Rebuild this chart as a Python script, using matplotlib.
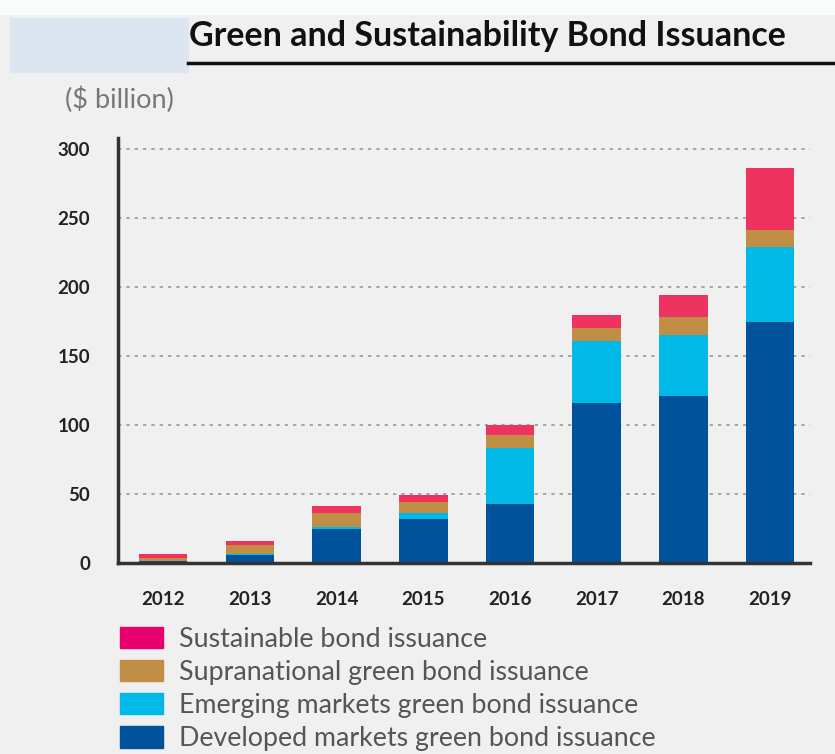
import numpy as np
import matplotlib
matplotlib.use("Agg")
import matplotlib.pyplot as plt
from matplotlib.patches import Rectangle, Patch
from matplotlib.lines import Line2D

years = ["2012", "2013", "2014", "2015", "2016", "2017", "2018", "2019"]
developed = [1.5, 6, 25, 32, 43, 116, 121, 175]
emerging = [0.3, 0.3, 1, 4, 40, 45, 44, 54]
supranational = [2, 7, 10, 8, 10, 9, 13, 12]
sustainable = [3, 3, 5, 5, 7, 10, 16, 45]

series_names = ["Developed markets green bond issuance",
                "Emerging markets green bond issuance",
                "Supranational green bond issuance",
                "Sustainable bond issuance"]
colors = ["#00529b", "#00b9e6", "#c08e45", "#ef3361"]
legend_colors = ["#00529b", "#00b9e6", "#c08e45", "#e8006f"]

W, H = 835, 754
fig = plt.figure(figsize=(W / 100, H / 100), dpi=100, facecolor="#f0f0f0")

# white strip at the very top, light blue block, title with underline
fig.patches.append(Rectangle((0, 1 - 14 / H), 1, 14 / H,
                             transform=fig.transFigure, color="#fafbfc", zorder=0))
fig.patches.append(Rectangle((10 / W, 1 - 72 / H), 178 / W, 54 / H,
                             transform=fig.transFigure, color="#dce6f0", zorder=0))
fig.text(189 / W, 1 - 36 / H, "Green and Sustainability Bond Issuance",
         fontsize=24.5, fontweight="bold", family="Lato", color="#111111",
         ha="left", va="center")
fig.lines.append(Line2D([188 / W, 1.0], [1 - 63 / H, 1 - 63 / H],
                        transform=fig.transFigure, color="#111111", lw=2.5))
fig.text(65 / W, 1 - 100 / H, "($ billion)", fontsize=19.5, family="Lato",
         color="#777777", ha="left", va="center")

ax = fig.add_axes([118 / W, 1 - 563 / H, (810 - 118) / W, (563 - 138) / H])
ax.set_facecolor("#f0f0f0")

x = np.arange(len(years))
bottom = np.zeros(len(years))
for vals, c, name in zip([developed, emerging, supranational, sustainable], colors, series_names):
    ax.bar(x, vals, width=0.56, bottom=bottom, color=c, label=name, zorder=3)
    bottom += np.array(vals)

ax.set_xlim(-0.52, 7.46)
ax.set_ylim(0, 308)
ax.set_yticks([0, 50, 100, 150, 200, 250, 300])
ax.set_xticks(x)
ax.set_xticklabels(years)
ax.tick_params(length=0, labelsize=13.5, colors="#222222")
ax.tick_params(axis="x", pad=20)
ax.tick_params(axis="y", pad=20)
for lbl in ax.get_xticklabels() + ax.get_yticklabels():
    lbl.set_fontweight("bold")
    lbl.set_family("Lato")
ax.grid(axis="y", linestyle=(0, (2, 3)), color="#999999", lw=1.2, zorder=1)
for s in ["top", "right"]:
    ax.spines[s].set_visible(False)
for s in ["left", "bottom"]:
    ax.spines[s].set_color("#333333")
    ax.spines[s].set_linewidth(2.5)
    ax.spines[s].set_zorder(4)

handles = [Patch(color=c) for c in legend_colors[::-1]]
fig.legend(handles, series_names[::-1], loc="upper left",
           bbox_to_anchor=(120 / W, 1 - 627 / H), frameon=False,
           handlelength=1.6, handleheight=0.85,
           labelspacing=0.3, handletextpad=0.6, borderpad=0, borderaxespad=0,
           prop={"family": "Lato", "size": 19.3}, labelcolor="#555555")

fig.savefig("out.png", dpi=100, facecolor=fig.get_facecolor())
